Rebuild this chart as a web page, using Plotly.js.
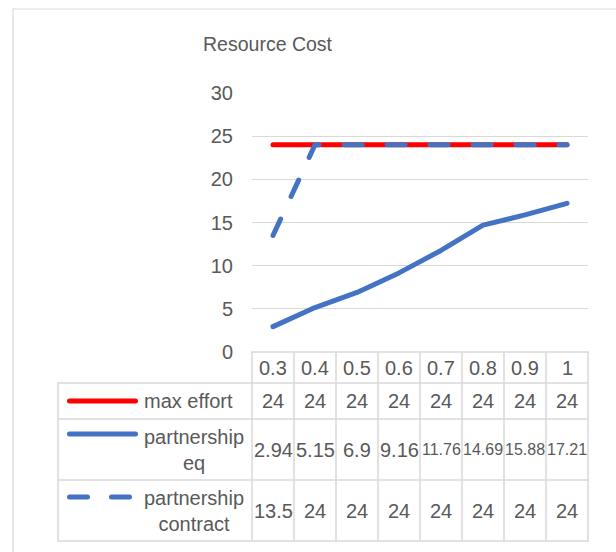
<!DOCTYPE html>
<html>
<head>
<meta charset="utf-8">
<script src="https://cdn.plot.ly/plotly-3.0.1.min.js"></script>
<style>
  html, body { margin: 0; padding: 0; background: #fff; }
  #chart { width: 616px; height: 552px; }
  .js-line, .shapelayer path { stroke-linecap: round; stroke-linejoin: round; }
</style>
</head>
<body>
<div id="chart"></div>
<script>
// ---- data ----
const categories = ['0.3', '0.4', '0.5', '0.6', '0.7', '0.8', '0.9', '1'];
const seriesNames = ['max effort', 'partnership<br>eq', 'partnership<br>contract'];
const maxEffort = [24, 24, 24, 24, 24, 24, 24, 24];
const partnershipEq = [2.94, 5.15, 6.9, 9.16, 11.76, 14.69, 15.88, 17.21];
const partnershipContract = [13.5, 24, 24, 24, 24, 24, 24, 24];
const yTicks = [0, 5, 10, 15, 20, 25, 30];

// ---- layout geometry (pixels) ----
const W = 616, H = 552;
const L = 252, R = 588, T = 93, B = 352;
const px = x => (x - L) / (R - L);
const py = y => (B - y) / (B - T);

const red = '#FF0000', blue = '#4472C4', grid = '#D9D9D9', txt = '#595959';
const FONT = '"Liberation Sans", Arial, sans-serif';
const dashPat = '18px,25px';

const seriesValues = [maxEffort, partnershipEq, partnershipContract];
const seriesColors = [red, blue, blue];
const seriesDash = ['solid', 'solid', dashPat];

const traces = seriesValues.map((vals, i) => ({
  type: 'scatter', mode: 'lines', x: categories, y: vals,
  name: seriesNames[i].replace('<br>', ' '),
  line: { color: seriesColors[i], width: 5, dash: seriesDash[i] },
  hoverinfo: 'x+y+name'
}));

// ---- table geometry ----
const rowLines = [383, 419, 480, 541];
const rowCenters = [401, 449.5, 510.5];
const headerCenter = 367.5;
const colW = (R - L) / categories.length;

const shapes = [];
const hline = (y, x0, x1, extra) => shapes.push(Object.assign({
  type: 'line', xref: 'paper', yref: 'paper', x0: px(x0), x1: px(x1), y0: py(y), y1: py(y),
  line: { color: grid, width: 1.5 }, layer: 'below'
}, extra || {}));
const vline = (x, y0, y1, extra) => shapes.push(Object.assign({
  type: 'line', xref: 'paper', yref: 'paper', x0: px(x), x1: px(x), y0: py(y0), y1: py(y1),
  line: { color: grid, width: 1.5 }, layer: 'below'
}, extra || {}));

// outer chart border
hline(9, 13, 620, { line: { color: grid, width: 1.2 } });
vline(13, 9, 560, { line: { color: grid, width: 1.2 } });

// table
hline(B, L, R);
rowLines.forEach(y => hline(y, 58, R));
vline(58, rowLines[0], rowLines[rowLines.length - 1]);
for (let k = 0; k <= categories.length; k++) vline(L + k * colW, B, rowLines[rowLines.length - 1]);

// legend keys
const keyY = [401, 434, 497];
shapes.push({ type: 'line', xref: 'paper', yref: 'paper', x0: px(69.5), x1: px(135.5), y0: py(keyY[0]), y1: py(keyY[0]), line: { color: red, width: 5 } });
shapes.push({ type: 'line', xref: 'paper', yref: 'paper', x0: px(69.5), x1: px(135.5), y0: py(keyY[1]), y1: py(keyY[1]), line: { color: blue, width: 5 } });
shapes.push({ type: 'line', xref: 'paper', yref: 'paper', x0: px(69.5), x1: px(129.5), y0: py(keyY[2]), y1: py(keyY[2]), line: { color: blue, width: 5, dash: '18px,24px' } });

// annotations (category axis: x given as category index)
const annotations = [];
const tfont = { family: FONT, size: 20, color: txt };
const fitFont = s => (s.length > 4 ? Object.assign({}, tfont, { size: 16 }) : tfont);
categories.forEach((c, j) => annotations.push({
  x: j, xref: 'x', y: py(headerCenter), yref: 'paper', text: c, showarrow: false,
  xanchor: 'center', yanchor: 'middle', font: tfont
}));
seriesValues.forEach((vals, i) => {
  vals.forEach((v, j) => annotations.push({
    x: j, xref: 'x', y: py(rowCenters[i]), yref: 'paper', text: String(v), showarrow: false,
    xanchor: 'center', yanchor: 'middle', font: fitFont(String(v))
  }));
});
const labelX = [188.5, 193.5, 193.5];
seriesNames.forEach((n, i) => annotations.push({
  x: px(labelX[i]), xref: 'paper', y: py(rowCenters[i]), yref: 'paper', text: n, showarrow: false,
  xanchor: 'center', yanchor: 'middle', align: 'center', font: tfont
}));

const layout = {
  width: W, height: H,
  margin: { l: L, r: W - R, t: T, b: H - B, pad: 0 },
  paper_bgcolor: '#fff', plot_bgcolor: '#fff',
  showlegend: false,
  title: {
    text: 'Resource Cost', x: 267.5 / W, xanchor: 'center', xref: 'container',
    y: 1 - 44 / H, yanchor: 'middle', yref: 'container',
    font: { family: FONT, size: 19.5, color: txt }
  },
  xaxis: {
    type: 'category', range: [-0.5, categories.length - 0.5],
    showticklabels: false, showgrid: false, zeroline: false, showline: false, ticks: ''
  },
  yaxis: {
    range: [0, 30], tickvals: yTicks, ticktext: yTicks.map(String),
    showgrid: true, gridcolor: grid, gridwidth: 1.2,
    zeroline: false, showline: false, ticks: '', ticklabelstandoff: 18,
    tickfont: { family: FONT, size: 20, color: txt }
  },
  shapes: shapes,
  annotations: annotations
};

Plotly.newPlot('chart', traces, layout, { displayModeBar: false, staticPlot: true });
</script>
</body>
</html>
